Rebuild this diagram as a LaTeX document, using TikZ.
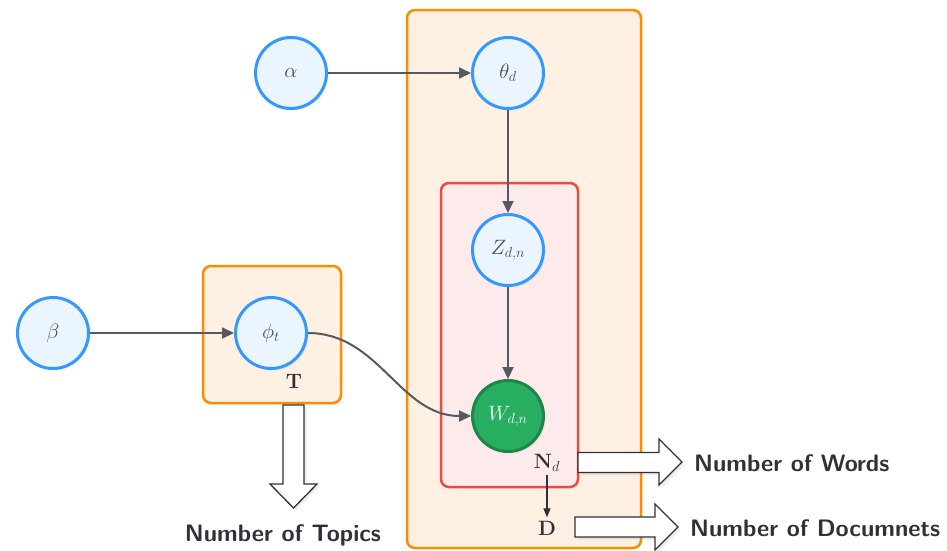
\documentclass[tikz,border=0pt]{standalone}
\usetikzlibrary{arrows.meta,shadows}
\definecolor{bluebd}{HTML}{3399FF}
\definecolor{bluefill}{HTML}{EBF5FF}
\definecolor{greenfill}{HTML}{27AE60}
\definecolor{greenbd}{HTML}{1E8449}
\definecolor{orangebd}{HTML}{FF8C00}
\definecolor{orangefill}{HTML}{FEF0E3}
\definecolor{redbd}{HTML}{E74C3C}
\definecolor{redfill}{HTML}{FCEBEA}
\definecolor{edgegray}{HTML}{555A60}
\definecolor{txtgray}{HTML}{4A4A50}
\definecolor{txtdark}{HTML}{30303A}
\tikzset{
  varnode/.style={circle, draw=bluebd, fill=bluefill, line width=3pt, minimum size=71pt, inner sep=0pt,
    text=txtgray, font=\fontsize{20.74}{24}\selectfont,
    drop shadow={opacity=0.12, shadow xshift=2pt, shadow yshift=-2pt}},
  obsnode/.style={varnode, draw=greenbd, fill=greenfill, text=white},
  orangeplate/.style={rectangle, rounded corners=8pt, draw=orangebd, fill=orangefill, line width=2.5pt, inner sep=0pt},
  redplate/.style={rectangle, rounded corners=8pt, draw=redbd, fill=redfill, line width=2.5pt, inner sep=0pt},
  edge/.style={draw=edgegray, line width=2pt, -{Triangle[length=12pt,width=11pt]}},
  thinedge/.style={draw=txtdark, line width=1.2pt, -{Triangle[length=9pt,width=7pt]}},
  platelabel/.style={text=txtdark, font=\fontsize{20.74}{24}\selectfont},
  blockarrow/.style={draw=txtdark, fill=white, line width=1.3pt, line join=miter,
    drop shadow={opacity=0.15, shadow xshift=2.5pt, shadow yshift=-2.5pt}},
  caption/.style={text=txtdark, font=\fontsize{23.8}{28}\selectfont\sffamily\bfseries, inner sep=0pt}
}
\begin{document}
\begin{tikzpicture}[x=1pt,y=-1pt]
\useasboundingbox (0,0) rectangle (947,550);
% plates
\node[orangeplate, minimum width=234pt, minimum height=538pt] (plateD) at (524,279) {};
\node[redplate, minimum width=137pt, minimum height=304pt] (plateN) at (509.5,335) {};
\node[orangeplate, minimum width=138pt, minimum height=137pt] (plateT) at (272,334.5) {};
% variables
\node[varnode] (alpha) at (291,73) {$\alpha$};
\node[varnode] (theta) at (508,73) {$\theta_d$};
\node[varnode] (z) at (508,250) {$Z_{d,n}$};
\node[obsnode] (w) at (508,416) {$W_{d,n}$};
\node[varnode] (beta) at (53,333) {$\beta$};
\node[varnode] (phi) at (271,333) {$\phi_t$};
% plate labels
\node[platelabel] (T) at (294,381) {$\mathbf{T}$};
\node[platelabel] (Nd) at (547,463) {$\mathbf{N}_d$};
\node[platelabel] (D) at (547,528) {$\mathbf{D}$};
% edges
\draw[edge] (alpha) -- (theta);
\draw[edge] (theta) -- (z);
\draw[edge] (z) -- (w);
\draw[edge] (beta) -- (phi);
\draw[edge] (phi.east) to[out=0,in=180] (w.west);
\draw[thinedge] (Nd) -- (D);
% block arrows
\path[blockarrow] (578,452.5) -- (659,452.5) -- (659,439) -- (682,462) -- (659,485) -- (659,472.5) -- (578,472.5) -- cycle;
\path[blockarrow] (575,517) -- (655,517) -- (655,504) -- (678,527) -- (655,550) -- (655,537) -- (575,537) -- cycle;
\path[blockarrow] (283,405) -- (283,484) -- (270,484) -- (293.5,508) -- (317,484) -- (304,484) -- (304,405) -- cycle;
% captions
\node[caption, anchor=west] (capW) at (694,463) {Number of Words};
\node[caption, anchor=west] (capD) at (690,528) {Number of Documnets};
\node[caption] (capT) at (283,535) {Number of Topics};
\end{tikzpicture}
\end{document}
